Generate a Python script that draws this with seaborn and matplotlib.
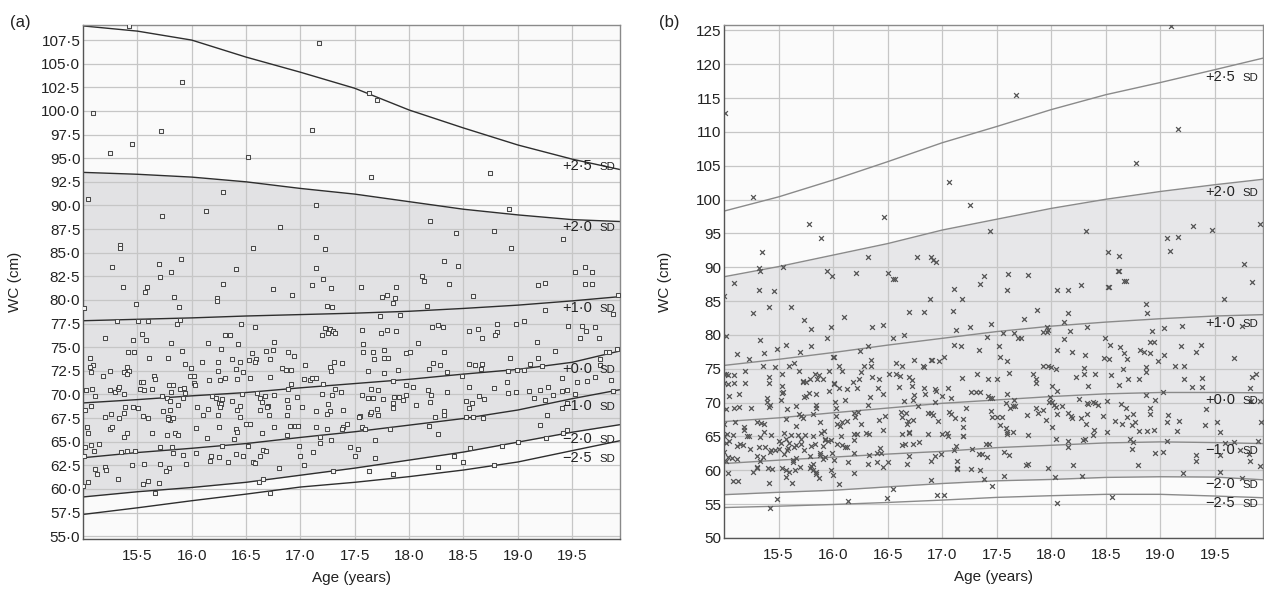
import numpy as np
import pandas as pd
import matplotlib
matplotlib.use('Agg')
import matplotlib.pyplot as plt
import seaborn as sns
from matplotlib.ticker import MultipleLocator, FixedLocator, FuncFormatter

# ---- centile curves ----
curve_age = [15.0, 15.5, 16.0, 16.5, 17.0, 17.5, 18.0, 18.5, 19.0, 19.5, 19.94]
sd_names = ['+2·5', '+2·0', '+1·0', '+0·0', '−1·0', '−2·0', '−2·5']

a_p25 = [109.0, 108.45, 107.5, 105.7, 104.1, 102.4, 100.1, 98.2, 96.4, 94.9, 93.8]
a_p20 = [93.5, 93.3, 93.0, 92.5, 91.8, 91.2, 90.4, 89.6, 89.0, 88.5, 88.3]
a_p10 = [77.8, 77.95, 78.1, 78.3, 78.45, 78.6, 78.8, 79.1, 79.45, 79.9, 80.35]
a_p00 = [69.1, 69.45, 69.85, 70.2, 70.7, 71.15, 71.6, 72.15, 72.65, 73.4, 74.6]
a_m10 = [63.3, 63.85, 64.3, 64.8, 65.45, 66.05, 66.75, 67.45, 68.35, 69.55, 70.5]
a_m20 = [59.15, 59.7, 60.15, 60.7, 61.45, 62.2, 63.05, 63.9, 64.95, 66.0, 66.8]
a_m25 = [57.3, 58.0, 58.75, 59.45, 60.2, 60.7, 61.3, 62.0, 62.85, 64.05, 65.1]

b_p25 = [98.3, 100.4, 102.9, 105.6, 108.4, 110.8, 113.3, 115.5, 117.3, 119.2, 120.9]
b_p20 = [88.6, 90.1, 91.8, 93.5, 95.5, 97.1, 98.7, 100.05, 101.2, 102.2, 103.0]
b_p10 = [75.5, 76.4, 77.4, 78.5, 79.5, 80.5, 81.3, 81.9, 82.4, 82.8, 83.0]
b_p00 = [67.2, 67.75, 68.5, 69.2, 69.9, 70.4, 70.9, 71.3, 71.5, 71.5, 71.45]
b_m10 = [61.0, 61.5, 61.95, 62.4, 62.8, 63.35, 63.7, 64.05, 64.2, 64.1, 63.95]
b_m20 = [56.4, 56.75, 57.05, 57.55, 58.05, 58.45, 58.65, 58.95, 59.05, 59.0, 58.6]
b_m25 = [54.5, 54.7, 54.95, 55.25, 55.6, 56.0, 56.25, 56.45, 56.45, 56.2, 55.95]

# ---- individual observations (age, WC) ----
pts_a = [
    (15.42, 109.0), (15.91, 103.1), (15.09, 99.8), (15.72, 97.9), (15.45, 96.5), (15.25, 95.6),
    (16.52, 95.15), (17.11, 98.0), (17.17, 107.2), (15.05, 90.7), (16.29, 91.45), (16.13, 89.4),
    (15.73, 88.9), (17.14, 90.0), (16.81, 87.75), (17.63, 101.95), (17.70, 101.2), (17.65, 93.0),
    (18.74, 93.4), (18.92, 89.6), (18.19, 88.4),
    (17.14, 86.68), (15.34, 85.8), (15.34, 85.45), (16.56, 85.45), (17.23, 85.35), (15.27, 83.47),
    (15.70, 83.76), (15.90, 84.32), (16.41, 83.3), (17.14, 83.4), (15.81, 82.91), (15.71, 82.42),
    (17.21, 82.24), (15.37, 81.39), (15.59, 81.39), (15.57, 80.8), (16.29, 81.68), (16.75, 81.18),
    (16.92, 80.55), (17.11, 81.6), (17.28, 81.3), (15.84, 80.34), (16.23, 80.23), (16.23, 79.9),
    (15.49, 79.6), (15.88, 79.28), (15.01, 79.1), (17.24, 79.38), (17.29, 79.28),
    (15.31, 77.8), (15.51, 77.8), (15.6, 77.8), (15.86, 77.48), (15.89, 77.87), (16.45, 77.48),
    (16.58, 77.09), (17.23, 76.98), (17.27, 76.95), (17.30, 76.74), (17.32, 76.46), (17.25, 76.53),
    (17.2, 76.24), (15.2, 76.0), (15.46, 75.72), (15.54, 76.35), (15.58, 75.78), (15.81, 75.4),
    (16.15, 75.4), (16.31, 76.24), (16.35, 76.24), (16.43, 75.33), (16.76, 75.5), (15.91, 74.55),
    (16.27, 74.76), (16.68, 74.55), (16.75, 74.69), (16.55, 74.34), (16.89, 74.44), (16.94, 74.09),
    (15.41, 74.44), (15.47, 74.44), (15.06, 73.88), (15.61, 73.88), (15.78, 73.81), (16.53, 73.63),
    (16.59, 73.77), (16.58, 73.39), (16.37, 73.7), (16.72, 73.77), (15.09, 73.14), (15.06, 72.86),
    (15.94, 73.25), (16.09, 73.39), (16.24, 73.39), (16.44, 73.39), (15.4, 72.93), (15.42, 72.47),
    (15.38, 72.4), (15.4, 72.12), (15.25, 72.47), (15.07, 72.4), (15.18, 71.98), (15.99, 72.79),
    (16.41, 72.65), (16.47, 72.4), (16.24, 72.43), (16.83, 72.79), (16.87, 72.54), (16.91, 72.54),
    (17.04, 73.14), (17.27, 72.89), (17.28, 72.47), (17.31, 73.42), (17.38, 73.35), (15.65, 71.94),
    (15.66, 71.62), (15.98, 71.98), (16.02, 71.98), (16.16, 71.52), (16.26, 71.52), (16.31, 71.76),
    (16.42, 71.62), (16.54, 71.73), (16.72, 71.83), (17.03, 71.62), (17.09, 71.52), (17.11, 71.76),
    (17.14, 71.76), (15.53, 71.27), (15.55, 71.27), (16.02, 71.24), (16.03, 70.95), (16.91, 71.06),
    (16.89, 70.6), (17.21, 71.13), (15.03, 70.42), (15.08, 70.53), (15.25, 70.42), (15.29, 70.21),
    (15.32, 70.56), (15.33, 70.74), (15.38, 70.07), (15.52, 70.56), (15.56, 70.42), (15.63, 70.53),
    (15.79, 70.95), (15.83, 70.95), (15.81, 70.21), (15.89, 70.53), (15.94, 70.18), (15.93, 70.63),
    (15.73, 69.86), (15.77, 69.61), (15.11, 69.86), (16.46, 70.07), (16.6, 70.18), (16.67, 69.86),
    (16.63, 69.61), (16.65, 69.15), (16.76, 69.96), (16.97, 69.75), (17.2, 70.07), (17.29, 69.93),
    (17.32, 70.56), (17.37, 70.28), (16.19, 69.82), (16.22, 69.58), (16.28, 69.54), (16.37, 69.33),
    (15.8, 69.33), (15.92, 69.58), (15.07, 68.8), (15.02, 68.4), (15.39, 68.7), (15.38, 68.03),
    (15.46, 68.7), (15.51, 68.52), (15.87, 68.91), (15.74, 68.24), (15.8, 68.31), (16.05, 68.63),
    (16.15, 68.48), (16.25, 69.12), (16.27, 68.98), (16.26, 68.63), (16.44, 68.8), (16.42, 68.4),
    (16.7, 68.77), (16.69, 68.63), (16.63, 68.4), (16.88, 69.4), (16.89, 68.63), (17.01, 68.63),
    (17.14, 68.24), (17.25, 68.98), (17.27, 68.2), (17.24, 67.92), (17.39, 68.4), (15.26, 67.95),
    (15.2, 67.57), (15.33, 67.46), (15.55, 67.71), (15.6, 67.46), (15.78, 67.57), (15.8, 67.28),
    (15.78, 67.42), (15.83, 67.53), (16.1, 67.78), (16.24, 67.78), (16.44, 67.57), (16.71, 67.85),
    (16.88, 67.78), (15.04, 66.58), (15.25, 66.37), (15.27, 66.51), (16.04, 66.4), (16.25, 66.51),
    (16.5, 66.9), (16.54, 66.83), (16.41, 66.3), (16.42, 66.0), (16.76, 66.51), (16.9, 66.68),
    (16.95, 66.68), (16.98, 66.68), (17.14, 66.51), (17.24, 66.3), (17.39, 66.58), (17.43, 66.83),
    (17.38, 66.3), (15.05, 65.87), (15.4, 65.87), (15.38, 65.45), (15.63, 65.87), (15.77, 65.66),
    (15.85, 65.94), (15.87, 65.66), (16.14, 65.34), (16.39, 65.24), (16.65, 65.94), (16.88, 65.66),
    (17.18, 65.45), (17.18, 64.89), (17.28, 65.17), (15.07, 64.6), (15.15, 64.71), (15.02, 64.39),
    (15.1, 64.04), (15.35, 63.9), (15.4, 63.97), (15.48, 64.04), (15.71, 64.39), (15.82, 64.39),
    (15.83, 63.76), (15.92, 63.55), (16.04, 63.76), (16.28, 64.53), (16.52, 64.5), (16.66, 64.07),
    (16.68, 63.97), (16.18, 63.48), (16.17, 62.91), (16.25, 63.37), (16.33, 62.8), (16.41, 63.69),
    (16.47, 63.48), (16.63, 63.51), (16.56, 62.8), (16.58, 62.7), (16.99, 64.5), (17.0, 63.48),
    (17.12, 63.9), (17.46, 64.43), (15.01, 63.48), (15.45, 62.56), (15.56, 62.63), (15.71, 62.63),
    (15.79, 62.17), (15.76, 61.85), (15.95, 62.63), (15.11, 62.1), (15.13, 61.61), (15.2, 62.31),
    (15.21, 62.03), (17.03, 62.52), (16.8, 62.17), (17.3, 61.85), (15.05, 60.76), (15.32, 61.0),
    (15.55, 60.51), (15.6, 60.83), (15.7, 60.65), (16.62, 60.76), (16.66, 61.0), (15.0, 60.3),
    (15.66, 59.6), (16.72, 59.6),
    (18.43, 87.07), (18.78, 87.28), (19.42, 86.4), (18.94, 85.45), (18.32, 84.15), (18.45, 83.58),
    (18.12, 82.52), (18.14, 81.96), (18.37, 81.64), (17.56, 81.39), (17.88, 81.39), (17.75, 80.26),
    (17.80, 80.55), (17.87, 80.16), (17.85, 79.63), (18.59, 80.44), (19.19, 81.53), (19.25, 81.75),
    (19.53, 82.98), (19.62, 83.47), (19.68, 82.98), (19.62, 81.68), (19.68, 81.68), (19.92, 80.51),
    (18.16, 79.38), (17.73, 78.33), (17.92, 78.43), (19.25, 78.89), (19.88, 78.47), (17.57, 76.84),
    (17.74, 76.45), (17.80, 76.84), (17.88, 76.67), (18.21, 77.09), (18.27, 77.3), (18.31, 77.09),
    (18.55, 76.67), (18.63, 76.95), (18.67, 76.0), (18.81, 77.41), (18.81, 76.56), (18.79, 76.24),
    (18.98, 77.41), (19.06, 77.8), (19.46, 77.23), (19.59, 77.23), (19.63, 76.67), (19.71, 77.09),
    (19.57, 76.0), (19.75, 76.0), (17.58, 75.29), (17.58, 74.48), (18.08, 75.4), (19.18, 75.5),
    (17.67, 74.44), (17.77, 74.69), (17.68, 73.74), (17.77, 73.81), (17.81, 73.81), (17.97, 74.37),
    (18.01, 74.44), (18.32, 74.44), (19.34, 74.59), (18.22, 73.35), (18.28, 73.14), (18.18, 72.68),
    (18.55, 73.25), (18.61, 73.14), (18.67, 73.25), (18.66, 72.65), (18.93, 73.81), (19.19, 73.81),
    (19.11, 73.25), (19.22, 73.04), (19.81, 74.48), (19.84, 74.48), (19.76, 73.74), (19.76, 73.14),
    (19.91, 74.76), (17.62, 72.5), (17.77, 72.29), (17.90, 72.58), (17.85, 71.45), (18.35, 72.33),
    (18.49, 71.98), (18.91, 72.5), (18.99, 72.58), (19.06, 72.58), (19.41, 71.73), (19.54, 71.27),
    (19.64, 71.45), (19.71, 71.83), (19.86, 71.52), (17.65, 70.53), (17.71, 70.49), (17.97, 70.95),
    (18.04, 70.81), (18.17, 70.42), (18.35, 70.28), (18.55, 70.81), (18.78, 70.67), (18.9, 71.27),
    (17.57, 69.96), (17.62, 69.58), (17.67, 69.58), (17.76, 69.47), (17.86, 69.75), (17.91, 69.75),
    (17.94, 69.4), (17.97, 69.89), (17.85, 69.08), (17.85, 68.52), (18.2, 69.96), (18.19, 69.15),
    (18.06, 68.91), (18.52, 69.33), (18.58, 69.08), (18.64, 69.82), (18.69, 69.47), (18.55, 68.52),
    (18.91, 70.11), (18.98, 70.25), (19.1, 70.39), (19.2, 70.49), (19.28, 70.78), (19.15, 69.65),
    (19.25, 69.37), (19.32, 69.93), (19.41, 70.39), (19.45, 70.46), (19.53, 70.04), (19.88, 70.39),
    (19.41, 68.59), (19.45, 69.08), (17.55, 67.67), (17.54, 67.57), (17.64, 67.88), (17.65, 68.13),
    (17.71, 67.81), (17.7, 68.45), (18.32, 68.2), (18.32, 67.78), (18.24, 67.57), (18.52, 67.64),
    (18.59, 67.64), (18.68, 67.53), (19.27, 67.78), (17.57, 66.58), (17.59, 66.3), (17.82, 66.3),
    (18.18, 66.62), (19.2, 66.72), (17.69, 65.17), (18.27, 65.77), (19.42, 65.94), (19.45, 66.23),
    (19.26, 65.42), (17.53, 64.21), (17.5, 63.48), (17.69, 63.26), (18.56, 64.29), (18.85, 64.5),
    (19.0, 64.96), (18.41, 63.48), (18.5, 62.8), (17.63, 61.85), (17.85, 61.57), (18.27, 62.31),
    (18.78, 62.49),
]

pts_b = [
    (15.01, 112.8), (15.27, 100.35), (15.78, 96.36), (15.89, 94.37), (16.47, 97.43), (15.35, 92.26),
    (15.32, 89.9), (15.54, 90.0), (16.32, 91.56), (16.77, 91.47), (16.9, 91.56), (16.92, 91.07),
    (16.94, 90.82), (17.06, 102.57), (19.1, 125.6), (17.68, 115.5), (19.16, 110.5), (18.78, 105.47),
    (17.25, 99.25), (17.44, 95.36), (18.32, 95.36), (19.3, 96.05), (19.47, 95.46), (19.91, 96.34),
    (19.06, 94.32), (19.16, 94.47), (19.09, 92.4), (18.52, 92.2), (18.62, 91.71), (18.61, 89.44),
    (18.67, 87.96), (18.52, 87.08), (19.77, 90.43),
    (15.33, 89.45), (15.94, 89.45), (15.99, 88.76), (16.21, 89.16), (16.5, 89.16), (16.55, 88.27),
    (16.57, 88.27), (15.09, 87.63), (15.32, 86.64), (15.46, 86.54), (17.38, 88.66), (17.35, 87.48),
    (17.11, 86.79), (17.18, 85.31), (16.89, 85.31), (15.0, 85.8), (15.27, 83.19), (15.41, 84.08),
    (15.61, 84.08), (16.1, 82.65), (15.73, 82.25), (16.7, 83.44), (16.83, 83.34), (17.1, 83.58),
    (15.8, 80.82), (15.98, 81.17), (16.36, 81.22), (16.46, 81.51), (17.13, 80.67), (17.25, 81.22),
    (17.45, 81.61), (15.02, 79.89), (15.33, 79.2), (15.94, 79.49), (16.55, 79.49), (16.65, 80.03),
    (17.11, 78.55), (17.17, 78.31), (17.41, 79.74), (15.49, 77.86), (15.57, 78.55), (15.7, 77.52),
    (15.8, 78.31), (15.37, 77.37), (15.12, 77.12), (15.23, 76.43), (16.0, 76.78), (16.01, 76.68),
    (16.25, 77.57), (16.32, 78.31), (17.34, 77.77), (16.35, 76.29), (16.35, 75.35), (16.28, 75.45),
    (16.58, 75.79), (16.63, 75.35), (16.74, 76.29), (16.82, 75.35), (16.83, 75.2), (16.9, 76.29),
    (16.91, 76.29), (16.97, 76.19), (17.02, 76.68), (15.36, 75.35), (15.47, 75.2), (15.6, 75.45),
    (15.64, 75.79), (15.69, 74.61), (15.96, 74.71), (16.05, 75.35), (16.08, 74.71), (15.19, 74.61),
    (15.0, 74.22), (15.02, 74.22), (15.04, 74.07), (15.09, 74.07), (15.53, 74.27), (15.83, 74.22),
    (15.87, 74.12), (15.91, 73.53), (15.79, 73.43), (15.75, 72.98), (15.72, 73.13), (16.26, 74.51),
    (16.24, 73.48), (16.18, 72.98), (16.36, 73.77), (16.42, 73.43), (16.51, 74.22), (16.58, 74.27),
    (16.61, 73.92), (16.7, 73.82), (16.72, 73.33), (16.83, 72.09), (16.84, 71.31), (16.93, 71.99),
    (16.94, 71.7), (17.18, 73.67), (17.32, 74.22), (17.42, 73.53), (15.41, 73.82), (15.41, 72.83),
    (15.19, 72.83), (15.09, 72.83), (15.0, 72.83), (15.04, 72.69), (15.53, 72.49), (15.54, 71.55),
    (15.72, 73.08), (15.85, 73.43), (16.01, 72.83), (16.01, 72.74), (16.05, 72.09), (16.13, 71.99),
    (16.22, 72.09), (15.96, 71.7), (16.46, 71.26), (16.41, 72.09), (16.34, 70.81), (16.6, 72.34),
    (16.72, 72.44), (16.74, 71.16), (17.0, 71.01), (17.08, 70.67), (17.05, 72.09), (17.26, 71.6),
    (17.31, 71.6), (17.35, 71.6), (17.42, 71.01), (17.44, 70.62), (15.05, 70.96), (15.14, 71.31),
    (15.39, 70.66), (15.39, 70.07), (15.41, 69.38), (15.42, 69.63), (15.52, 70.37), (15.53, 71.45),
    (15.75, 70.96), (15.73, 70.76), (15.78, 71.36), (15.84, 71.26), (16.02, 70.02), (16.11, 70.37),
    (16.32, 69.68), (16.65, 70.22), (16.73, 70.32), (16.78, 69.43), (16.93, 70.07), (17.46, 70.62),
    (15.09, 69.24), (15.14, 69.33), (15.25, 69.24), (15.58, 69.04), (15.66, 69.43), (15.84, 69.68),
    (15.84, 69.24), (15.82, 68.3), (16.03, 69.24), (16.03, 68.0), (15.69, 68.3), (15.71, 68.0),
    (15.72, 67.66), (15.02, 69.04), (16.19, 68.5), (16.23, 68.64), (16.2, 67.85), (16.42, 67.41),
    (16.48, 68.05), (16.62, 68.59), (16.67, 68.5), (16.63, 67.95), (16.68, 66.77), (16.73, 67.41),
    (16.69, 67.31), (16.87, 68.4), (16.9, 68.4), (16.92, 68.1), (16.96, 67.31), (17.06, 68.55),
    (17.08, 68.35), (17.12, 67.8), (17.19, 67.56), (17.19, 66.38), (17.19, 65.09), (17.22, 69.24),
    (17.45, 68.69), (17.46, 67.95), (15.1, 67.16), (15.0, 66.82), (15.18, 66.42), (15.18, 65.93),
    (15.3, 67.16), (15.34, 66.92), (15.37, 66.82), (15.37, 65.73), (15.57, 67.56), (15.66, 66.62),
    (15.88, 67.07), (16.04, 66.77), (16.06, 66.62), (16.08, 67.07), (16.13, 67.31), (16.26, 66.82),
    (16.46, 65.93), (15.03, 65.39), (15.08, 65.19), (15.0, 65.0), (15.23, 65.09), (15.33, 64.95),
    (15.43, 65.24), (15.5, 64.4), (15.52, 64.06), (15.5, 63.12), (15.55, 65.49), (15.57, 64.6),
    (15.61, 65.29), (15.6, 64.06), (15.68, 65.29), (15.71, 64.7), (15.74, 65.29), (15.82, 65.09),
    (15.89, 65.54), (15.92, 65.78), (15.93, 64.6), (15.95, 64.35), (15.98, 64.5), (16.07, 65.09),
    (16.19, 65.39), (16.22, 65.39), (16.19, 64.55), (16.3, 65.44), (16.33, 65.34), (16.63, 65.34),
    (16.7, 65.44), (16.7, 65.59), (16.87, 65.34), (17.0, 65.34), (17.04, 65.49), (17.05, 65.09),
    (17.19, 65.14), (15.02, 64.06), (15.05, 64.35), (15.12, 63.56), (15.15, 63.96), (15.24, 63.22),
    (15.17, 63.76), (15.21, 65.04), (15.32, 63.46), (15.38, 63.46), (15.43, 62.97), (15.47, 63.07),
    (15.59, 63.37), (15.64, 63.46), (15.66, 63.76), (15.71, 63.91), (15.73, 62.97), (15.8, 63.56),
    (15.83, 63.96), (15.93, 64.45), (15.91, 63.61), (16.04, 63.86), (16.08, 63.76), (16.11, 63.46),
    (16.13, 63.46), (16.43, 63.27), (16.63, 63.71), (16.66, 63.96), (16.73, 63.86), (16.79, 64.21),
    (17.11, 62.97), (17.13, 63.56), (17.27, 63.22), (17.34, 62.38), (17.4, 63.86), (17.43, 63.86),
    (15.0, 62.73), (15.04, 61.99), (15.07, 61.79), (15.12, 61.64), (15.02, 61.4), (15.3, 62.13),
    (15.36, 61.99), (15.33, 61.4), (15.3, 60.51), (15.42, 62.73), (15.55, 62.38), (15.58, 62.97),
    (15.66, 61.89), (15.63, 61.49), (15.63, 61.3), (15.79, 62.08), (15.8, 60.66), (15.82, 61.0),
    (15.84, 59.82), (15.88, 62.33), (15.91, 61.74), (15.88, 62.58), (15.93, 61.99), (15.99, 62.58),
    (16.01, 61.59), (16.19, 62.53), (16.33, 62.33), (16.4, 62.58), (16.44, 62.58), (16.14, 61.2),
    (16.32, 60.95), (16.4, 61.2), (16.46, 60.56), (16.5, 61.2), (16.68, 60.9), (16.7, 62.13),
    (16.9, 61.35), (16.93, 62.13), (16.99, 62.38), (17.14, 61.35), (17.14, 60.21), (17.14, 60.36),
    (17.26, 60.21), (17.35, 60.11), (17.41, 61.99), (17.36, 62.48), (15.04, 59.62), (15.08, 58.44),
    (15.13, 58.44), (15.27, 59.77), (15.3, 60.36), (15.4, 60.31), (15.44, 60.16), (15.41, 58.19),
    (15.53, 60.41), (15.57, 60.02), (15.57, 59.08), (15.6, 59.82), (15.62, 58.19), (15.65, 60.11),
    (15.7, 60.51), (15.79, 60.41), (15.82, 60.02), (15.84, 59.42), (15.87, 58.83), (15.98, 60.11),
    (16.0, 59.27), (16.05, 58.04), (16.19, 59.57), (16.9, 58.58), (17.38, 58.68), (17.46, 57.75),
    (16.55, 57.25), (15.49, 55.77), (16.14, 55.53), (16.49, 55.92), (16.95, 56.41), (17.02, 56.41),
    (15.42, 54.49),
    (17.6, 89.06), (17.79, 88.81), (18.62, 89.45), (18.68, 87.97), (17.59, 86.64), (18.05, 86.64),
    (18.15, 86.64), (18.27, 87.33), (18.53, 87.09), (19.84, 87.87), (19.58, 85.36), (18.87, 84.52),
    (18.88, 83.29), (17.87, 83.68), (17.75, 82.4), (18.15, 83.29), (18.12, 81.96), (17.96, 81.22),
    (17.97, 80.72), (17.92, 80.38), (17.96, 80.38), (18.33, 81.22), (18.17, 80.53), (19.03, 81.07),
    (19.2, 81.37), (18.92, 80.53), (17.56, 80.33), (17.66, 80.33), (17.69, 79.54), (17.72, 79.54),
    (18.12, 79.34), (18.49, 79.49), (18.9, 79.0), (18.94, 78.9), (19.75, 81.37), (17.52, 78.31),
    (18.05, 77.77), (18.19, 77.42), (18.54, 78.55), (18.63, 78.26), (18.81, 77.72), (18.85, 77.47),
    (18.9, 77.27), (19.19, 78.31), (19.37, 78.55), (19.33, 77.42), (19.03, 77.03), (18.31, 76.98),
    (18.48, 76.53), (18.53, 76.43), (18.67, 77.27), (18.69, 76.43), (18.98, 76.09), (19.67, 76.53),
    (17.53, 76.68), (17.59, 76.09), (17.92, 75.35), (17.97, 75.35), (18.0, 75.25), (18.04, 75.0),
    (18.3, 75.1), (18.3, 74.17), (18.66, 74.96), (18.87, 75.3), (18.87, 74.51), (19.13, 75.35),
    (19.22, 75.35), (17.61, 74.31), (17.83, 74.17), (17.86, 73.43), (17.86, 72.88), (18.23, 73.77),
    (18.4, 74.17), (18.55, 74.02), (18.7, 73.43), (18.8, 73.43), (17.5, 73.53), (18.62, 72.59),
    (18.34, 72.44), (19.22, 73.43), (19.29, 72.34), (19.38, 73.67), (19.38, 72.34), (19.84, 73.82),
    (19.88, 74.22), (19.82, 72.09), (18.01, 72.44), (18.05, 71.65), (17.59, 71.31), (19.02, 71.5),
    (18.87, 71.16), (18.95, 70.32), (17.66, 70.32), (17.58, 69.98), (17.65, 69.53), (17.62, 69.24),
    (17.67, 69.43), (17.99, 70.76), (18.01, 70.12), (18.02, 69.68), (18.04, 69.33), (17.98, 70.02),
    (18.1, 69.53), (18.25, 70.47), (18.33, 69.88), (18.38, 70.07), (18.4, 69.88), (18.43, 69.58),
    (18.34, 69.73), (18.51, 70.17), (18.64, 69.83), (18.68, 69.19), (18.9, 69.24), (18.9, 68.35),
    (19.42, 68.99), (19.83, 70.27), (19.91, 70.22), (17.86, 69.24), (17.88, 68.4), (17.92, 68.89),
    (17.78, 68.1), (17.95, 67.41), (18.05, 68.35), (18.15, 68.5), (18.18, 68.0), (18.19, 67.71),
    (18.27, 67.66), (18.33, 68.3), (18.32, 66.82), (18.47, 68.0), (18.58, 67.31), (18.69, 67.9),
    (18.75, 68.35), (18.65, 66.82), (18.74, 66.67), (18.77, 67.12), (19.07, 68.1), (19.06, 67.16),
    (19.17, 67.31), (19.15, 65.88), (19.41, 66.67), (19.52, 67.16), (19.55, 65.73), (17.5, 67.85),
    (17.55, 67.85), (17.53, 66.67), (17.58, 66.18), (17.59, 65.68), (17.65, 65.59), (17.59, 65.34),
    (17.79, 65.29), (18.01, 66.42), (18.39, 65.93), (18.38, 65.24), (18.51, 65.73), (18.8, 65.88),
    (18.88, 65.83), (18.94, 65.98), (19.92, 67.16), (18.04, 64.65), (18.15, 64.3), (18.15, 63.51),
    (18.29, 64.5), (18.31, 64.65), (18.72, 64.65), (18.75, 64.16), (18.74, 63.22), (19.06, 64.3),
    (19.02, 62.68), (18.95, 62.58), (17.57, 62.68), (17.61, 62.33), (17.77, 60.85), (17.79, 61.0),
    (17.97, 60.31), (18.03, 58.98), (18.2, 60.85), (18.28, 59.23), (17.57, 59.23), (18.79, 60.85),
    (19.21, 59.67), (19.33, 62.33), (19.33, 61.35), (19.55, 62.33), (19.55, 59.77), (19.59, 64.06),
    (19.67, 64.16), (19.73, 62.97), (19.81, 62.48), (19.82, 61.35), (19.89, 64.4), (19.91, 60.71),
    (19.75, 58.83), (18.56, 56.07), (18.05, 55.18),
]

x_ticks = [15.5, 16.0, 16.5, 17.0, 17.5, 18.0, 18.5, 19.0, 19.5]

sns.set_style('white')
plt.rcParams['font.family'] = ['Liberation Sans', 'DejaVu Sans']

fig = plt.figure(figsize=(12.64, 5.89), dpi=100)
ax_a = fig.add_axes([0.0657, 0.0849, 0.4248, 0.8727])
ax_b = fig.add_axes([0.5728, 0.0866, 0.4264, 0.8710])

dot = FuncFormatter(lambda v, p: f'{v:.1f}'.replace('.', '·'))


def draw_panel(ax, pts, curves, marker, ylim, ymajor, yminor, yfmt, line_col, fill_col, bg_col):
    ax.set_facecolor(bg_col)
    # shaded band between +2 SD and -2 SD
    ax.fill_between(curve_age, curves[1], curves[5], color=fill_col, lw=0, zorder=0.2)

    long = pd.DataFrame({
        'age': curve_age * len(curves),
        'wc': sum(curves, []),
        'sd': np.repeat(sd_names, len(curve_age)),
    })
    sns.lineplot(data=long, x='age', y='wc', units='sd', estimator=None, sort=False,
                 color=line_col, lw=1.0, ax=ax, zorder=2)

    df = pd.DataFrame(pts, columns=['age', 'wc'])
    if marker == 's':
        sns.scatterplot(data=df, x='age', y='wc', marker='s', s=9, color='#f6f6f6',
                        edgecolor='#4a4a4a', linewidth=0.75, ax=ax, zorder=3)
    else:
        sns.scatterplot(data=df, x='age', y='wc', marker='x', s=12, color='#555555',
                        linewidth=0.9, ax=ax, zorder=3)

    # SD labels near the right edge
    for name, vals in zip(sd_names, curves):
        ax.annotate(name, xy=(19.41, vals[-2]), xytext=(0, -8), textcoords='offset points',
                    fontsize=10.5, va='baseline', ha='left', color='#222222', zorder=5)
        ax.annotate('SD', xy=(19.41, vals[-2]), xytext=(27, -8), textcoords='offset points',
                    fontsize=8.2, va='baseline', ha='left', color='#222222', zorder=5)

    ax.set_xlim(15.0, 19.94)
    ax.set_ylim(*ylim)
    ax.xaxis.set_major_locator(FixedLocator(x_ticks))
    ax.xaxis.set_minor_locator(MultipleLocator(0.1))
    ax.xaxis.set_major_formatter(dot)
    ax.yaxis.set_major_locator(MultipleLocator(ymajor))
    ax.yaxis.set_minor_locator(MultipleLocator(yminor))
    ax.yaxis.set_major_formatter(yfmt)
    ax.tick_params(which='both', direction='in', colors='#555555', labelcolor='#222222')
    ax.tick_params(which='major', length=4, labelsize=11, width=0.8)
    ax.tick_params(which='minor', length=2.5, width=0.6)
    ax.tick_params(axis='x', which='major', pad=7)
    ax.tick_params(axis='y', which='major', pad=2)
    ax.grid(True, which='major', color='#c6c6c6', lw=0.9)
    ax.set_axisbelow(True)
    for s in ax.spines.values():
        s.set_color('#8a8a8a')
        s.set_linewidth(1.0)
    ax.spines['left'].set_color('#555555')
    ax.spines['bottom'].set_color('#555555')
    ax.set_xlabel('Age (years)', fontsize=11, color='#222222')
    ax.set_ylabel('WC (cm)', fontsize=11, color='#222222')


curves_a = [a_p25, a_p20, a_p10, a_p00, a_m10, a_m20, a_m25]
curves_b = [b_p25, b_p20, b_p10, b_p00, b_m10, b_m20, b_m25]

draw_panel(ax_a, pts_a, curves_a, 's', (54.7, 109.1), 2.5, 0.5, dot,
           '#2e2e2e', '#e2e2e4', '#fafafa')
draw_panel(ax_b, pts_b, curves_b, 'x', (50.0, 125.8), 5, 1,
           FuncFormatter(lambda v, p: f'{v:.0f}'), '#8a8a8a', '#e7e7e9', '#fbfbfb')

ax_a.yaxis.set_label_coords(-0.114, 0.5)
ax_b.yaxis.set_label_coords(-0.096, 0.5)
ax_a.xaxis.set_label_coords(0.5, -0.062)
ax_b.xaxis.set_label_coords(0.5, -0.062)

fig.text(20 / 1264, 1 - 22 / 589, '(a)', ha='center', va='center', fontsize=12, color='#222222')
fig.text(669 / 1264, 1 - 22 / 589, '(b)', ha='center', va='center', fontsize=12, color='#222222')

fig.savefig('out.png', dpi=100)
